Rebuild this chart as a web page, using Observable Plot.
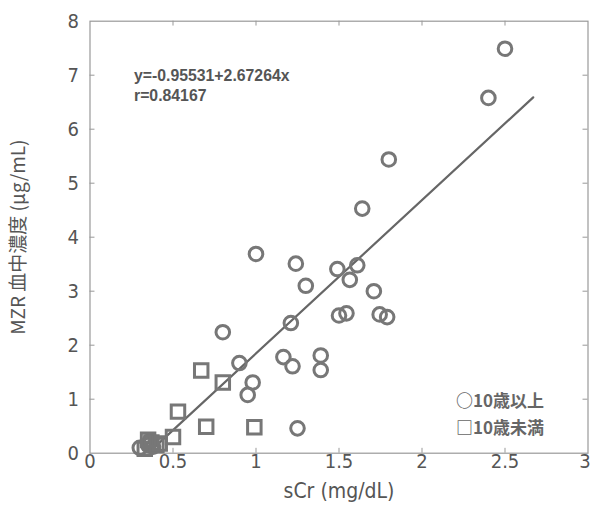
<!DOCTYPE html>
<html>
<head>
<meta charset="utf-8">
<script src="https://cdn.jsdelivr.net/npm/d3@7"></script>
<script src="https://cdn.jsdelivr.net/npm/@observablehq/plot@0.6"></script>
<style>
  html, body { margin: 0; padding: 0; background: #fff; }
</style>
</head>
<body>
<div id="chart"></div>
<script>
// 10歳以上 (circles)
const overX = [2.50, 2.40, 1.80, 1.64, 1.00, 1.24, 1.30, 1.49, 1.61, 1.565, 1.71, 1.745, 1.79, 1.50, 1.545, 1.21, 0.80, 1.165, 1.22, 1.39, 1.39, 0.90, 0.98, 0.95, 1.25, 0.30, 0.35, 0.38, 0.36];
const overY = [7.49, 6.58, 5.44, 4.53, 3.69, 3.51, 3.10, 3.41, 3.48, 3.21, 3.00, 2.57, 2.52, 2.55, 2.59, 2.41, 2.24, 1.78, 1.61, 1.81, 1.54, 1.67, 1.31, 1.08, 0.46, 0.10, 0.15, 0.12, 0.22];
// 10歳未満 (squares)
const underX = [0.67, 0.80, 0.53, 0.50, 0.70, 0.99, 0.33, 0.37, 0.40, 0.42, 0.35];
const underY = [1.53, 1.31, 0.77, 0.30, 0.49, 0.48, 0.08, 0.20, 0.15, 0.18, 0.25];
// regression line as drawn
const fitX = [0.36, 2.67];
const fitY = [0.03, 6.59];
const eqText = ["y=-0.95531+2.67264x", "r=0.84167"];
const eqY = [6.99, 6.62];
const legendText = ["○10歳以上", "□10歳未満"];
const legendY = [0.957, 0.463];
const xTicks = [0, 0.5, 1, 1.5, 2, 2.5, 3];
const xTickLabels = ["0", "0.5", "1", "1.5", "2", "2.5", "3"];
const yTicks = [0, 1, 2, 3, 4, 5, 6, 7, 8];
const yTickLabels = ["0", "1", "2", "3", "4", "5", "6", "7", "8"];
const xLabel = "sCr (mg/dL)";
const yLabel = "MZR 血中濃度 (μg/mL)";

const over = overX.map((x, i) => ({x, y: overY[i]}));
const under = underX.map((x, i) => ({x, y: underY[i]}));
const fit = fitX.map((x, i) => ({x, y: fitY[i]}));
const xt = xTicks.map((v, i) => ({v, label: xTickLabels[i]}));
const yt = yTicks.map((v, i) => ({v, label: yTickLabels[i]}));
const eq = eqText.map((t, i) => ({t, y: eqY[i]}));
const leg = legendText.map((t, i) => ({t, y: legendY[i]}));

const tickFont = "'DejaVu Sans Condensed', 'DejaVu Sans', sans-serif";
const col = "#777";
const axisCol = "#999";

const chart = Plot.plot({
  width: 592,
  height: 522,
  marginLeft: 89.5,
  marginRight: 4.5,
  marginTop: 20.7,
  marginBottom: 69.3,
  style: {fontFamily: tickFont, background: "#fff"},
  x: {domain: [0, 3], axis: null},
  y: {domain: [0, 8], axis: null},
  marks: [
    Plot.frame({stroke: axisCol, strokeWidth: 1.2}),
    // inward tick marks on all four sides
    Plot.ruleX(xTicks.slice(1, -1), {x: d => d, y1: 0, y2: 0.09, stroke: axisCol}),
    Plot.ruleX(xTicks.slice(1, -1), {x: d => d, y1: 8, y2: 7.91, stroke: axisCol}),
    Plot.ruleY(yTicks.slice(1, -1), {y: d => d, x1: 0, x2: 0.03, stroke: axisCol}),
    Plot.ruleY(yTicks.slice(1, -1), {y: d => d, x1: 3, x2: 2.97, stroke: axisCol}),
    // tick labels
    Plot.text(xt.slice(0, -1), {x: "v", text: "label", frameAnchor: "bottom", dy: 15, fontSize: 20, fill: "#555"}),
    Plot.text(xt.slice(-1), {x: "v", text: "label", frameAnchor: "bottom", dy: 15, dx: -3, fontSize: 20, fill: "#555"}),
    Plot.text(yt, {y: "v", text: "label", frameAnchor: "left", dx: -11, textAnchor: "end", fontSize: 20, fill: "#555"}),
    // fit line
    Plot.line(fit, {x: "x", y: "y", stroke: "#666", strokeWidth: 2.2}),
    Plot.dot(over, {x: "x", y: "y", r: 6.8, stroke: col, strokeWidth: 3, fill: "none"}),
    Plot.dot(under, {x: "x", y: "y", r: 7.6, symbol: "square", stroke: col, strokeWidth: 3, fill: "none"}),
    Plot.text(eq, {text: "t", y: "y", x: () => 0, dx: 44, textAnchor: "start", fontSize: 15.8, fontWeight: "bold", fontFamily: "'Liberation Sans', Arial, sans-serif", fill: "#555"}),
    Plot.text(leg, {text: "t", y: "y", x: () => 3, dx: -132, textAnchor: "start", fontSize: 17, fontWeight: "bold", fontFamily: "'Noto Sans CJK JP', sans-serif", fill: "#666", style: "letter-spacing: 1px"}),
    Plot.text([xLabel], {text: d => d, frameAnchor: "bottom", dy: 45, fontSize: 21, fontFamily: tickFont, fill: "#555"}),
    Plot.text([yLabel], {text: d => d, frameAnchor: "left", dx: -71, rotate: -90, textAnchor: "middle", fontSize: 19, fontFamily: "'Noto Sans CJK JP', sans-serif", fill: "#555"})
  ]
});
document.getElementById("chart").appendChild(chart);
</script>
</body>
</html>
